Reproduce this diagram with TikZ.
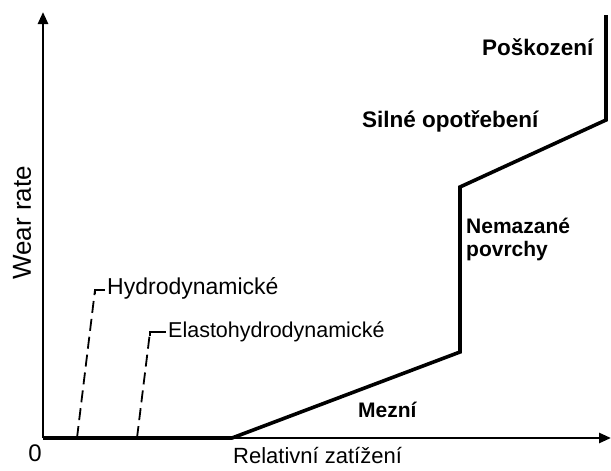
\documentclass[tikz,border=0pt]{standalone}
\usepackage{fontspec}
\setmainfont{Liberation Sans}
\usetikzlibrary{arrows.meta}
\begin{document}
\begin{tikzpicture}[x=1pt,y=-1pt,
  axis/.style={line width=2.6pt,-{Triangle[length=12pt,width=10pt]}},
  curve/.style={line width=3.6pt,line join=miter},
  lead/.style={line width=1.8pt,dash pattern=on 12pt off 6pt},
  leadtick/.style={line width=1.8pt},
  lab/.style={inner sep=0pt,anchor=base west,font=\fontsize{21}{23}\selectfont\bfseries},
  biglab/.style={lab,font=\fontsize{22.5}{24}\selectfont\bfseries},
  reg/.style={inner sep=0pt,anchor=base west,font=\fontsize{22}{24}\selectfont}]
\useasboundingbox (0,0) rectangle (611,471);
% axes
\coordinate (O) at (43,438);
\coordinate (Ytop) at (43,12);
\coordinate (Xend) at (611,438);
\draw[axis] (O) -- (Ytop);
\draw[axis] (O) -- (Xend);
% curve
\coordinate (c1) at (43,438);
\coordinate (c2) at (232,438);
\coordinate (c3) at (460,352);
\coordinate (c4) at (460,187);
\coordinate (c5) at (606,120);
\coordinate (c6) at (606,15);
\draw[curve] (c1) -- (c2) -- (c3) -- (c4) -- (c5) -- (c6);
% dashed leads
\coordinate (h1) at (77,438);
\coordinate (h2) at (95,290);
\coordinate (h3) at (105,290);
\coordinate (e1) at (137,438);
\coordinate (e2) at (150,332);
\coordinate (e3) at (166,332);
\draw[lead] (h1) -- (h2);
\draw[leadtick] ([yshift=-4pt]h2) -- (h2) -- (h3);
\draw[lead] (e1) -- (e2);
\draw[leadtick] ([yshift=-4pt]e2) -- (e2) -- (e3);
% labels
\node[reg,font=\fontsize{23}{25}\selectfont] (hyd) at (107,294) {Hydrodynamické};
\node[reg,font=\fontsize{21.5}{24}\selectfont] (ehd) at (168,337) {Elastohydrodynamické};
\node[biglab] (pos) at (482,56) {Poškození};
\node[biglab] (sil) at (362,127) {Silné opotřebení};
\node[lab] (nem) at (466,233) {Nemazané};
\node[lab] (pov) at (466,256) {povrchy};
\node[lab] (mez) at (358,417) {Mezní};
\node[reg] (rel) at (233,463) {Relativní zatížení};
\node[inner sep=0pt,rotate=90,font=\fontsize{26}{28}\selectfont] (wr) at (22,223) {Wear rate};
\node[inner sep=0pt,font=\fontsize{24}{26}\selectfont] (zero) at (35,453) {0};
\end{tikzpicture}
\end{document}
